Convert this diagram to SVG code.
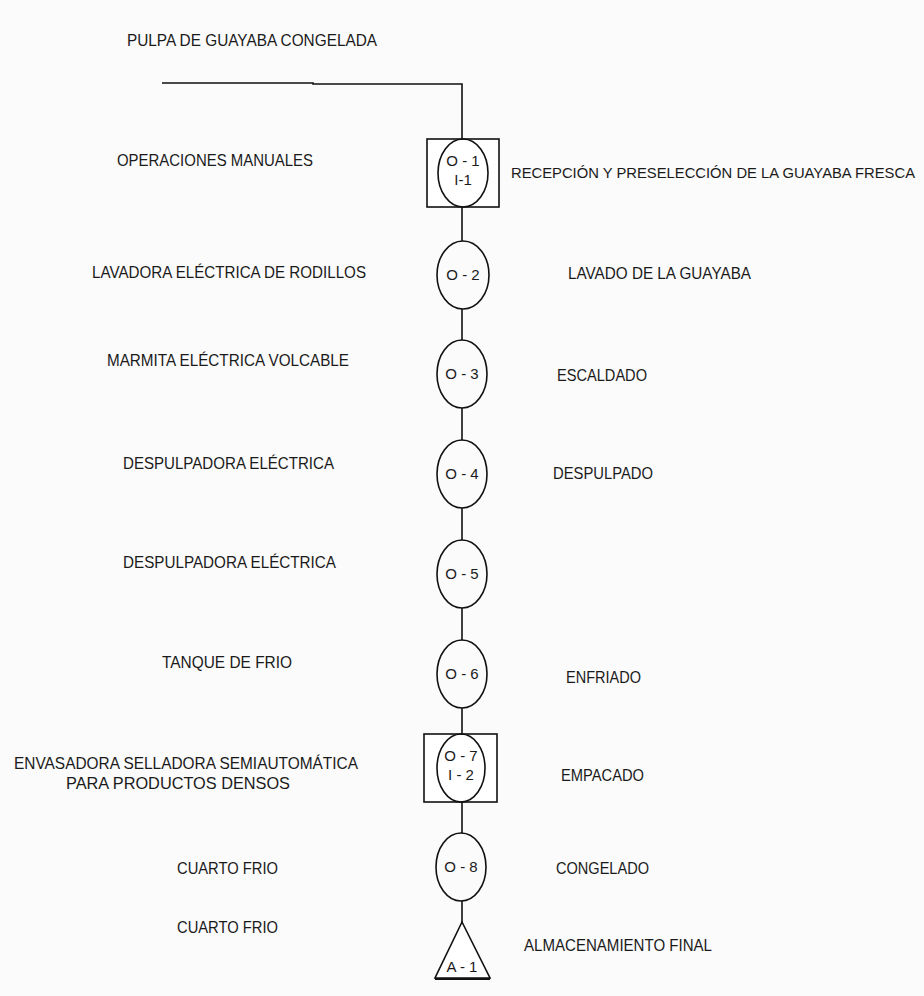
<svg xmlns="http://www.w3.org/2000/svg" width="924" height="996" viewBox="0 0 924 996">
<style>
.bg{fill:#fbfbfb}
.t{font-family:"Liberation Sans",Arial,sans-serif;font-size:17px;fill:#1a1a1a}
.c{font-family:"Liberation Sans",Arial,sans-serif;font-size:15px;fill:#1a1a1a;text-anchor:middle}
.s{fill:none;stroke:#111;stroke-width:1.6}
.w{fill:#fff;stroke:#111;stroke-width:1.6}
</style>
<rect class="bg" x="0" y="0" width="924" height="996"/>
<g id="connectors">
<polyline class="s" points="162,83 313,83 313,84 462,84 462,139"/>
<line class="s" x1="462" y1="207" x2="462" y2="241"/>
<line class="s" x1="462" y1="309" x2="462" y2="340"/>
<line class="s" x1="462" y1="408" x2="462" y2="440"/>
<line class="s" x1="462" y1="508" x2="462" y2="540"/>
<line class="s" x1="462" y1="608" x2="462" y2="640"/>
<line class="s" x1="462" y1="708" x2="462" y2="734"/>
<line class="s" x1="462" y1="802" x2="462" y2="833"/>
<line class="s" x1="462" y1="901" x2="462" y2="922"/>
</g>
<g id="title"><text class="t" x="127" y="46" textLength="250" lengthAdjust="spacingAndGlyphs">PULPA DE GUAYABA CONGELADA</text></g>
<g id="n1">
<rect class="w" x="427" y="139" width="72" height="68"/>
<ellipse class="s" cx="463" cy="173" rx="25" ry="34"/>
<text class="c" x="463" y="166">O - 1</text>
<text class="c" x="463" y="185">I-1</text>
<text class="t" x="117" y="166" textLength="196" lengthAdjust="spacingAndGlyphs">OPERACIONES MANUALES</text>
<text class="t" x="511" y="178" style="font-size:15px" textLength="404" lengthAdjust="spacingAndGlyphs">RECEPCIÓN Y PRESELECCIÓN DE LA GUAYABA FRESCA</text>
</g>
<g id="n2">
<ellipse class="s" cx="463" cy="275" rx="26" ry="34"/>
<text class="c" x="463" y="280">O - 2</text>
<text class="t" x="92" y="278" textLength="274" lengthAdjust="spacingAndGlyphs">LAVADORA ELÉCTRICA DE RODILLOS</text>
<text class="t" x="568" y="279" textLength="183" lengthAdjust="spacingAndGlyphs">LAVADO DE LA GUAYABA</text>
</g>
<g id="n3">
<ellipse class="s" cx="462" cy="374" rx="25" ry="34"/>
<text class="c" x="462" y="379">O - 3</text>
<text class="t" x="107" y="366" textLength="242" lengthAdjust="spacingAndGlyphs">MARMITA ELÉCTRICA VOLCABLE</text>
<text class="t" x="557" y="381" textLength="90" lengthAdjust="spacingAndGlyphs">ESCALDADO</text>
</g>
<g id="n4">
<ellipse class="s" cx="462" cy="474" rx="25" ry="34"/>
<text class="c" x="462" y="479">O - 4</text>
<text class="t" x="123" y="469" textLength="211" lengthAdjust="spacingAndGlyphs">DESPULPADORA ELÉCTRICA</text>
<text class="t" x="553" y="479" textLength="100" lengthAdjust="spacingAndGlyphs">DESPULPADO</text>
</g>
<g id="n5">
<ellipse class="s" cx="462" cy="574" rx="25" ry="34"/>
<text class="c" x="462" y="579">O - 5</text>
<text class="t" x="123" y="568" textLength="213" lengthAdjust="spacingAndGlyphs">DESPULPADORA ELÉCTRICA</text>
</g>
<g id="n6">
<ellipse class="s" cx="462" cy="674" rx="25" ry="34"/>
<text class="c" x="462" y="679">O - 6</text>
<text class="t" x="162" y="668" textLength="130" lengthAdjust="spacingAndGlyphs">TANQUE DE FRIO</text>
<text class="t" x="566" y="683" textLength="75" lengthAdjust="spacingAndGlyphs">ENFRIADO</text>
</g>
<g id="n7">
<rect class="w" x="424" y="734" width="73" height="68"/>
<ellipse class="s" cx="461" cy="768" rx="24" ry="34"/>
<text class="c" x="461" y="761">O - 7</text>
<text class="c" x="461" y="780">I - 2</text>
<text class="t" x="14" y="769" textLength="344" lengthAdjust="spacingAndGlyphs">ENVASADORA SELLADORA SEMIAUTOMÁTICA</text>
<text class="t" x="66" y="789" textLength="224" lengthAdjust="spacingAndGlyphs">PARA PRODUCTOS DENSOS</text>
<text class="t" x="561" y="781" textLength="83" lengthAdjust="spacingAndGlyphs">EMPACADO</text>
</g>
<g id="n8">
<ellipse class="s" cx="461" cy="867" rx="25" ry="34"/>
<text class="c" x="461" y="872">O - 8</text>
<text class="t" x="177" y="874" textLength="101" lengthAdjust="spacingAndGlyphs">CUARTO FRIO</text>
<text class="t" x="556" y="874" textLength="93" lengthAdjust="spacingAndGlyphs">CONGELADO</text>
</g>
<g id="a1">
<polygon class="w" points="462,922 490,978 435,978"/>
<line x1="435" y1="979" x2="490" y2="979" stroke="#111" stroke-width="2"/>
<text class="c" x="462" y="972">A - 1</text>
<text class="t" x="177" y="933" textLength="101" lengthAdjust="spacingAndGlyphs">CUARTO FRIO</text>
<text class="t" x="524" y="951" textLength="188" lengthAdjust="spacingAndGlyphs">ALMACENAMIENTO FINAL</text>
</g>
</svg>
